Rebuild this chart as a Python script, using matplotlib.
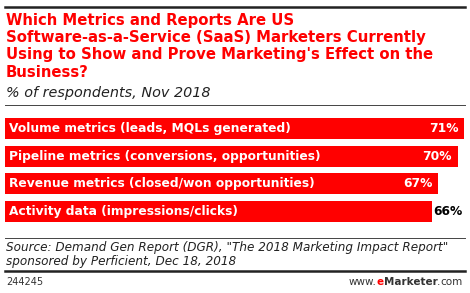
import matplotlib.pyplot as plt
from matplotlib.lines import Line2D

categories = [
    "Volume metrics (leads, MQLs generated)",
    "Pipeline metrics (conversions, opportunities)",
    "Revenue metrics (closed/won opportunities)",
    "Activity data (impressions/clicks)",
]
values = [71, 70, 67, 66]

title_lines = [
    "Which Metrics and Reports Are US",
    "Software-as-a-Service (SaaS) Marketers Currently",
    "Using to Show and Prove Marketing's Effect on the",
    "Business?",
]
subtitle = "% of respondents, Nov 2018"
source_lines = [
    'Source: Demand Gen Report (DGR), "The 2018 Marketing Impact Report"',
    "sponsored by Perficient, Dec 18, 2018",
]

W, H = 470, 293
red = "#ff0000"
fig = plt.figure(figsize=(W / 100, H / 100), dpi=100)

def fx(x):
    return x / W

def fy(y):
    return 1 - y / H

# rules
fig.add_artist(Line2D([fx(5), fx(465)], [fy(6.5), fy(6.5)], color="#222222", lw=1.8))
fig.add_artist(Line2D([fx(5), fx(465)], [fy(104.7), fy(104.7)], color="#444444", lw=0.7))
fig.add_artist(Line2D([fx(5), fx(465)], [fy(237.5), fy(237.5)], color="#444444", lw=0.7))
fig.add_artist(Line2D([fx(5), fx(465)], [fy(270.7), fy(270.7)], color="#222222", lw=1.8))

for line, base in zip(title_lines, [25, 42, 59.3, 76.7]):
    fig.text(fx(6), fy(base), line, color=red, fontsize=10.75,
             fontweight="bold", va="baseline", ha="left")
fig.text(fx(6), fy(96.7), subtitle, fontsize=10.4, style="italic",
         va="baseline", ha="left", color="#222222")

# bars
ax = fig.add_axes([fx(5.3), fy(225), fx(464.3 - 5.3), (225 - 115) / H])
ypos = list(range(len(values)))
ax.barh(ypos, values, height=0.77, color=red)
ax.set_xlim(0, 71)
ax.set_ylim(3.5, -0.5)
ax.axis("off")
for y, cat, v in zip(ypos, categories, values):
    ax.text(0.6, y, cat, color="white", fontsize=8.8, fontweight="bold",
            va="center", ha="left")
    if v >= 67:
        ax.text(v - 0.95, y, f"{v}%", color="white", fontsize=8.8,
                fontweight="bold", va="center", ha="right")
    else:
        ax.text(v + 0.25, y, f"{v}%", color="black", fontsize=8.8,
                fontweight="bold", va="center", ha="left")

for line, base in zip(source_lines, [250.7, 265]):
    fig.text(fx(6), fy(base), line, fontsize=8.65, style="italic",
             va="baseline", ha="left", color="#222222")
fig.text(fx(6), fy(282), "244245", fontsize=7, va="center", ha="left",
         color="#333333")

# www.eMarketer.com, built right to left
r = fig.canvas.get_renderer()
x = 463
for part, col, wt in [("com", "#333333", "normal"), (".", "#333333", "normal"),
                      ("Marketer", "#333333", "bold"), ("e", red, "bold"),
                      ("www.", "#333333", "normal")]:
    tt = fig.text(x / W, fy(282), part, fontsize=7.5, va="center", ha="right",
                  color=col, fontweight=wt)
    x = tt.get_window_extent(r).x0

fig.savefig("out.png", dpi=100)
